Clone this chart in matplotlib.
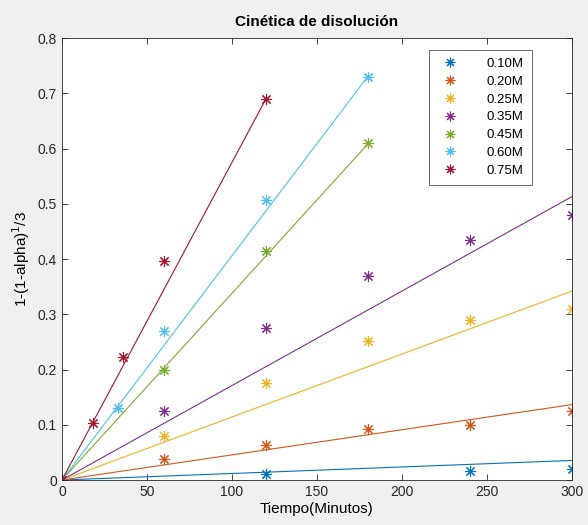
import numpy as np
import matplotlib.pyplot as plt
from matplotlib.lines import Line2D

plt.rcParams['font.family'] = ['Liberation Sans', 'DejaVu Sans']

# Concentrations and colors (MATLAB default order)
labels = ["0.10M", "0.20M", "0.25M", "0.35M", "0.45M", "0.60M", "0.75M"]
colors = ["#0072BD", "#D95319", "#EDB120", "#7E2F8E", "#77AC30", "#4DBEEE", "#A2142F"]

# Measured points, time (min) and 1-(1-alpha)^1/3
t_010 = [0, 120, 240, 300]
y_010 = [0, 0.010, 0.016, 0.020]
t_020 = [0, 60, 120, 180, 240, 300]
y_020 = [0, 0.038, 0.063, 0.092, 0.100, 0.125]
t_025 = [0, 60, 120, 180, 240, 300]
y_025 = [0, 0.080, 0.175, 0.252, 0.290, 0.310]
t_035 = [0, 60, 120, 180, 240, 300]
y_035 = [0, 0.125, 0.275, 0.370, 0.435, 0.480]
t_045 = [0, 60, 120, 180]
y_045 = [0, 0.200, 0.415, 0.610]
t_060 = [0, 33, 60, 120, 180]
y_060 = [0, 0.130, 0.270, 0.507, 0.730]
t_075 = [0, 18, 36, 60, 120]
y_075 = [0, 0.103, 0.222, 0.396, 0.690]

# fitted slopes (line through origin)
slopes = [1.18e-4, 4.55e-4, 1.14e-3, 1.71e-3, 3.38e-3, 4.06e-3, 5.75e-3]

times = [t_010, t_020, t_025, t_035, t_045, t_060, t_075]
values = [y_010, y_020, y_025, y_035, y_045, y_060, y_075]

fig = plt.figure(figsize=(5.88, 5.25), dpi=100)
fig.patch.set_facecolor("#f0f0f0")
ax = fig.add_axes([0.1054, 0.0857, 0.8674, 0.8419])

star = (8, 2, 0)
for t, y, m, c, lab in zip(times, values, slopes, colors, labels):
    ax.plot(t, y, linestyle="none", marker=star, markersize=8, mew=0.8,
            color=c, label=lab)
    tt = np.array([0, max(t)])
    ax.plot(tt, m * tt, color=c, lw=0.8)

ax.set_xlim(0, 300)
ax.set_ylim(0, 0.8)
ax.set_xticks(np.arange(0, 301, 50))
ax.set_yticks(np.arange(0, 0.81, 0.1))
ax.set_yticklabels(["0", "0.1", "0.2", "0.3", "0.4", "0.5", "0.6", "0.7", "0.8"])

gray = "#262626"
for s in ax.spines.values():
    s.set_color(gray)
    s.set_linewidth(0.6)
ax.tick_params(direction="in", top=True, right=True, length=4, width=0.6,
               colors=gray, labelsize=10)

ax.set_title("Cinética de disolución", fontsize=11, fontweight="bold", pad=9)
ax.set_xlabel("Tiempo(Minutos)", fontsize=11, labelpad=2)
ax.set_ylabel("1-(1-alpha)$^{1}$/3", fontsize=11, labelpad=4)

handles = [Line2D([], [], linestyle="none", marker=star, markersize=7,
                  mew=0.8, color=c) for c in colors]
leg = ax.legend(handles, labels, loc="upper right", bbox_to_anchor=(0.921, 0.973),
                borderaxespad=0, fontsize=9.5, frameon=True, fancybox=False,
                handletextpad=1.8, labelspacing=0.42, borderpad=0.6,
                handlelength=2.0)
leg.get_frame().set_edgecolor(gray)
leg.get_frame().set_linewidth(0.6)

fig.savefig("out.png", dpi=100, facecolor=fig.get_facecolor())
